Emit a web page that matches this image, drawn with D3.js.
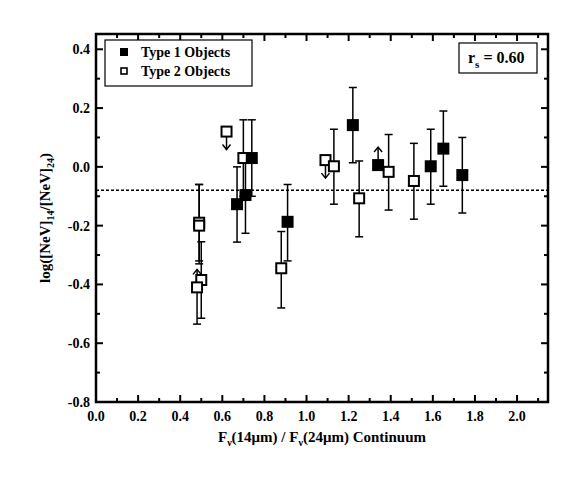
<!DOCTYPE html><html><head><meta charset="utf-8">
<script src="https://cdn.jsdelivr.net/npm/d3@7"></script>
<style>body{margin:0;background:#fff}svg text{font-family:'Liberation Serif','DejaVu Serif','Times New Roman',serif;font-weight:bold}</style></head><body>
<svg id="c" width="581" height="487"></svg>
<script>
const type1X=[0.67,0.71,0.74,0.91,1.22,1.34,1.59,1.65,1.74];
const type1Y=[-0.127,-0.096,0.03,-0.187,0.142,0.006,0.002,0.062,-0.028];
const type1Up=[0.127,0.13,0.13,0.127,0.128,0,0.126,0.128,0.128];
const type1Dn=[0.129,0.13,0.13,0.133,0.128,0,0.129,0.128,0.129];
const type1Lim=[null,null,null,null,null,'up',null,null,null];
const type2X=[0.49,0.49,0.50,0.48,0.62,0.70,0.88,1.09,1.13,1.25,1.39,1.51];
const type2Y=[-0.19,-0.20,-0.385,-0.41,0.12,0.03,-0.345,0.023,0.002,-0.107,-0.017,-0.048];
const type2Up=[0.13,0.14,0.13,0,0,0.13,0.125,0,0.126,0.127,0.127,0.128];
const type2Dn=[0.13,0.13,0.13,0.125,0,0.13,0.135,0,0.129,0.131,0.13,0.13];
const type2Lim=[null,null,null,'up','down',null,null,'down',null,null,null,null];
const meanLine=-0.08;
const xTicks=[0,0.2,0.4,0.6,0.8,1.0,1.2,1.4,1.6,1.8,2.0];
const yTicks=[0.4,0.2,0,-0.2,-0.4,-0.6,-0.8];

const svg=d3.select("#c");
const L=96,R=548,T=34,B=402;
const x=d3.scaleLinear().domain([0,2.147]).range([L,R]);
const y=d3.scaleLinear().domain([-0.8,0.452]).range([B,T]);
const g=svg.append("g");
const minorX=d3.range(0,2.15,0.1), minorY=d3.range(-0.8,0.45,0.1);
minorX.forEach((v,i)=>{const len=(i%2==0)?7:4;
 g.append("line").attr("x1",x(v)).attr("x2",x(v)).attr("y1",B).attr("y2",B-len).attr("stroke","#000").attr("stroke-width",2);
 g.append("line").attr("x1",x(v)).attr("x2",x(v)).attr("y1",T).attr("y2",T+len).attr("stroke","#000").attr("stroke-width",2);});
minorY.forEach((v,i)=>{const len=(i%2==0)?7:4;
 g.append("line").attr("y1",y(v)).attr("y2",y(v)).attr("x1",L).attr("x2",L+len).attr("stroke","#000").attr("stroke-width",2);
 g.append("line").attr("y1",y(v)).attr("y2",y(v)).attr("x1",R).attr("x2",R-len).attr("stroke","#000").attr("stroke-width",2);});
xTicks.forEach(v=>g.append("text").attr("x",x(v)).attr("y",B+19).attr("text-anchor","middle").attr("font-size",14).text(v.toFixed(1)));
yTicks.forEach(v=>g.append("text").attr("x",L-6).attr("y",y(v)+5).attr("text-anchor","end").attr("font-size",14).text(v.toFixed(1)));
g.append("rect").attr("x",L).attr("y",T).attr("width",R-L).attr("height",B-T).attr("fill","none").attr("stroke","#000").attr("stroke-width",2.5);
g.append("line").attr("x1",L).attr("x2",R).attr("y1",y(meanLine)).attr("y2",y(meanLine)).attr("stroke","#000").attr("stroke-width",1.5).attr("stroke-dasharray","3,2");
function err(xs,ys,up,dn){xs.forEach((xv,i)=>{if(up[i]===0&&dn[i]===0)return;
 const x0=x(xv),a=y(ys[i]+up[i]),b=y(ys[i]-dn[i]);
 g.append("line").attr("x1",x0).attr("x2",x0).attr("y1",a).attr("y2",b).attr("stroke","#000").attr("stroke-width",1.5);
 [a,b].forEach(yy=>g.append("line").attr("x1",x0-4).attr("x2",x0+4).attr("y1",yy).attr("y2",yy).attr("stroke","#000").attr("stroke-width",1.5));});}
function arrows(xs,ys,lim){xs.forEach((xv,i)=>{if(!lim[i])return;const x0=x(xv),y0=y(ys[i]);
 if(lim[i]==='down'){g.append("line").attr("x1",x0).attr("x2",x0).attr("y1",y0+5).attr("y2",y0+18).attr("stroke","#000").attr("stroke-width",1.5);
  g.append("path").attr("d",`M${x0-4},${y0+13}L${x0},${y0+18}L${x0+4},${y0+13}`).attr("fill","none").attr("stroke","#000").attr("stroke-width",1.5);}
 else{g.append("line").attr("x1",x0).attr("x2",x0).attr("y1",y0-5).attr("y2",y0-18).attr("stroke","#000").attr("stroke-width",1.5);
  g.append("path").attr("d",`M${x0-4},${y0-13}L${x0},${y0-18}L${x0+4},${y0-13}`).attr("fill","none").attr("stroke","#000").attr("stroke-width",1.5);}});}
err(type1X,type1Y,type1Up,type1Dn);err(type2X,type2Y,type2Up,type2Dn);
arrows(type1X,type1Y,type1Lim);arrows(type2X,type2Y,type2Lim);
const s=10;
type2X.forEach((xv,i)=>g.append("rect").attr("x",x(xv)-s/2).attr("y",y(type2Y[i])-s/2).attr("width",s).attr("height",s).attr("fill","#fff").attr("stroke","#000").attr("stroke-width",2));
type1X.forEach((xv,i)=>g.append("rect").attr("x",x(xv)-s/2-1).attr("y",y(type1Y[i])-s/2-1).attr("width",s+2).attr("height",s+2).attr("fill","#000"));
g.append("rect").attr("x",105).attr("y",40).attr("width",147).attr("height",46).attr("fill","#fff").attr("stroke","#000").attr("stroke-width",1.2);
g.append("rect").attr("x",120).attr("y",48).attr("width",8).attr("height",8).attr("fill","#000");
g.append("rect").attr("x",121).attr("y",68).attr("width",6).attr("height",6).attr("fill","#fff").attr("stroke","#000").attr("stroke-width",1.6);
g.append("text").attr("x",141).attr("y",57).attr("font-size",14).text("Type 1 Objects");
g.append("text").attr("x",141).attr("y",76).attr("font-size",14).text("Type 2 Objects");
g.append("rect").attr("x",459).attr("y",43).attr("width",78).attr("height",30).attr("fill","#fff").attr("stroke","#000").attr("stroke-width",1.2);
const rt=g.append("text").attr("x",468).attr("y",63).attr("font-size",16);
rt.append("tspan").text("r");rt.append("tspan").attr("dy",5).attr("font-size",11).text("s");rt.append("tspan").attr("dy",-5).text(" = 0.60");
const xl=g.append("text").attr("x",(L+R)/2).attr("y",442).attr("text-anchor","middle").attr("font-size",15);
xl.append("tspan").text("F");xl.append("tspan").attr("dy",4).attr("font-size",10).text("ν");xl.append("tspan").attr("dy",-4).text("(14μm) / F");
xl.append("tspan").attr("dy",4).attr("font-size",10).text("ν");xl.append("tspan").attr("dy",-4).text("(24μm) Continuum");
const yl=g.append("text").attr("transform",`translate(50,${(T+B)/2}) rotate(-90)`).attr("text-anchor","middle").attr("font-size",15);
yl.append("tspan").text("log([NeV]");yl.append("tspan").attr("dy",4).attr("font-size",10).text("14");yl.append("tspan").attr("dy",-4).text("/[NeV]");
yl.append("tspan").attr("dy",4).attr("font-size",10).text("24");yl.append("tspan").attr("dy",-4).text(")");
</script></body></html>
